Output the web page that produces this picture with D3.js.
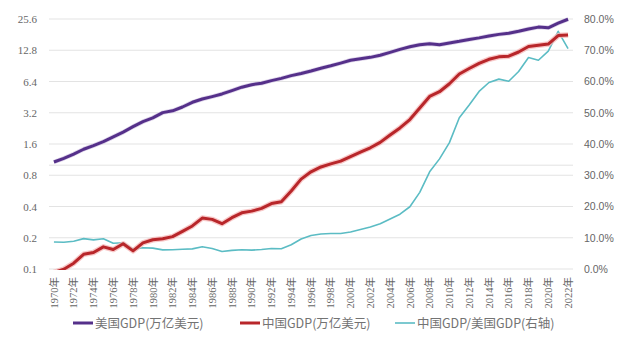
<!DOCTYPE html>
<html><head><meta charset="utf-8">
<script src="https://cdn.jsdelivr.net/npm/d3@7"></script>
<style>body{margin:0;background:#fff}svg{display:block}</style>
</head><body><div id="chart"></div>
<script>
const years = d3.range(1970, 2023);
const usGDP = [1.073,1.165,1.279,1.425,1.545,1.685,1.873,2.082,2.352,2.627,2.857,3.207,3.343,3.634,4.037,4.339,4.580,4.855,5.236,5.642,5.963,6.158,6.520,6.859,7.287,7.640,8.073,8.578,9.063,9.631,10.251,10.582,10.936,11.458,12.214,13.037,13.815,14.475,14.770,14.478,15.049,15.600,16.254,16.843,17.551,18.206,18.695,19.477,20.533,21.381,21.060,23.315,25.463];
const cnGDP = [0.0926,0.0996,0.1138,0.1385,0.1442,0.1634,0.1539,0.1749,0.1495,0.1783,0.1911,0.1958,0.2051,0.2302,0.2599,0.3095,0.3007,0.2729,0.3123,0.3478,0.3609,0.3834,0.4269,0.4447,0.5643,0.7343,0.8637,0.9615,1.0290,1.0940,1.2113,1.3394,1.4706,1.6603,1.9553,2.2860,2.7521,3.5504,4.5943,5.1017,6.0872,7.5515,8.5322,9.5704,10.4757,11.0616,11.2333,12.3104,13.8948,14.2799,14.6877,17.7341,17.9632];
const ratio = [8.63,8.55,8.90,9.72,9.33,9.70,8.22,8.40,6.36,6.79,6.69,6.11,6.14,6.33,6.44,7.13,6.57,5.62,5.96,6.16,6.05,6.23,6.55,6.48,7.74,9.61,10.70,11.21,11.35,11.36,11.82,12.66,13.45,14.49,16.01,17.53,19.92,24.53,31.11,35.24,40.45,48.41,52.49,56.82,59.69,60.76,60.09,63.21,67.67,66.79,69.74,76.06,70.55];
const leftTicks = [0.1,0.2,0.4,0.8,1.6,3.2,6.4,12.8,25.6];
const rightTicks = [0,10,20,30,40,50,60,70,80];
const legendNames = ["美国GDP(万亿美元)","中国GDP(万亿美元)","中国GDP/美国GDP(右轴)"];
const colors = ["#55308a","#b8262a","#5bbcc4"];

const W = 628, H = 338;
const svg = d3.select("#chart").append("svg").attr("width", W).attr("height", H);
const x0 = 49, x1 = 573, yTop = 19, yBot = 269;
const x = d3.scalePoint().domain(years).range([x0, x1]).padding(0.5);
const yL = d3.scaleLog().base(2).domain([0.1, 25.6]).range([yBot, yTop]);
const yR = d3.scaleLinear().domain([0, 80]).range([yBot, yTop]);

// gridlines
svg.append("g").selectAll("line").data(leftTicks).join("line")
  .attr("x1", x0).attr("x2", x1).attr("y1", d => yL(d)).attr("y2", d => yL(d))
  .attr("stroke", "#e3e3e3").attr("stroke-width", 1);
// horizontal axis crossing line at 1.0
svg.append("line").attr("x1", x0).attr("x2", x1).attr("y1", yL(1)).attr("y2", yL(1))
  .attr("stroke", "#e3e3e3").attr("stroke-width", 1);

// left axis labels
const gl = svg.append("g").attr("transform", `translate(${x0 - 9},0)`)
  .call(d3.axisLeft(yL).tickValues(leftTicks).tickSize(0).tickFormat(d3.format(".1f")));
gl.select(".domain").remove();
gl.selectAll("text").attr("font-family", "Liberation Serif, serif").attr("font-size", 11).attr("fill", "#666");

// right axis labels
const gr = svg.append("g").attr("transform", `translate(${x1 + 8},0)`)
  .call(d3.axisRight(yR).tickValues(rightTicks).tickSize(0).tickFormat(d => d.toFixed(1) + "%"));
gr.select(".domain").remove();
gr.selectAll("text").attr("font-family", "Liberation Sans, sans-serif").attr("font-size", 10.5).attr("fill", "#666");

// x labels
svg.append("g").selectAll("text").data(years.filter(d => d % 2 === 0)).join("text")
  .attr("transform", d => `translate(${x(d) + 3.7},277) rotate(-90)`)
  .attr("text-anchor", "end")
  .attr("font-family", "Liberation Serif, 'Noto Sans CJK SC', serif").attr("font-size", 10.5).attr("fill", "#666")
  .text(d => d + "年");

// clip
svg.append("defs").append("clipPath").attr("id", "clip")
  .append("rect").attr("x", x0).attr("y", 0).attr("width", x1 - x0).attr("height", yBot + 1);

const plot = svg.append("g").attr("clip-path", "url(#clip)");
const lineL = d3.line().x((d, i) => x(years[i])).y(d => yL(d));
const lineR = d3.line().x((d, i) => x(years[i])).y(d => yR(d));

plot.append("path").datum(ratio).attr("d", lineR).attr("fill", "none")
  .attr("stroke", colors[2]).attr("stroke-width", 1.6).attr("stroke-linejoin", "round");
// red glow
plot.append("path").datum(cnGDP).attr("d", lineL).attr("fill", "none")
  .attr("stroke", "#f5b5b5").attr("stroke-width", 5.5).attr("stroke-linejoin", "round").attr("opacity", 0.75);
plot.append("path").datum(cnGDP).attr("d", lineL).attr("fill", "none")
  .attr("stroke", colors[1]).attr("stroke-width", 3).attr("stroke-linejoin", "round");
plot.append("path").datum(usGDP).attr("d", lineL).attr("fill", "none")
  .attr("stroke", "#c8b8dc").attr("stroke-width", 4.5).attr("stroke-linejoin", "round").attr("opacity", 0.6);
plot.append("path").datum(usGDP).attr("d", lineL).attr("fill", "none")
  .attr("stroke", colors[0]).attr("stroke-width", 3).attr("stroke-linejoin", "round");

// legend
const legX = [73, 240, 395];
const lg = svg.append("g");
legendNames.forEach((name, i) => {
  lg.append("line").attr("x1", legX[i]).attr("x2", legX[i] + 20).attr("y1", 323).attr("y2", 323)
    .attr("stroke", colors[i]).attr("stroke-width", i === 2 ? 1.6 : 3);
  lg.append("text").attr("x", legX[i] + 22).attr("y", 327.5)
    .attr("font-family", "'Noto Sans CJK SC', sans-serif").attr("font-size", 12.5).attr("fill", "#737373")
    .text(name);
});
</script></body></html>
